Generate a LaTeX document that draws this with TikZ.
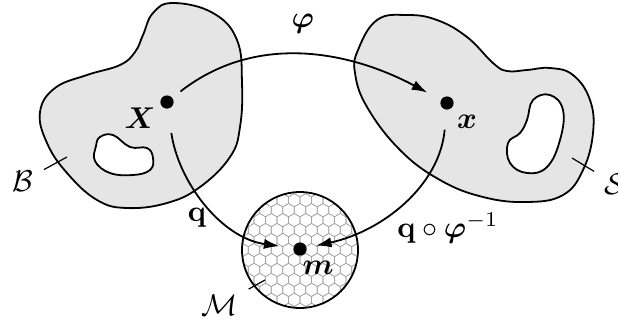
\documentclass[tikz,border=0pt]{standalone}
\usepackage{amsmath, amssymb}
\usepackage{tikz}
\usetikzlibrary{arrows.meta,positioning,calc}

\begin{document}
\begin{tikzpicture}[
    x=0.333pt, y=-0.333pt,
    region/.style={draw, line width=0.6pt, fill=black!10, even odd rule},
    dot/.style={circle, fill=black, inner sep=0pt, minimum size=4.4pt},
    map/.style={line width=0.6pt, -{Latex[length=5.2pt,width=3.4pt]}},
    leader/.style={line width=0.4pt},
    hexline/.style={line width=0.2pt, black!35}
]
\useasboundingbox (0,0) rectangle (618,325);

% reference body B with its hole
\path[region] plot[smooth cycle, tension=0.7] coordinates {
    (173,3) (213,13) (237,40) (242,83) (240,127) (230,157) (200,187)
    (167,203) (127,208) (97,200) (67,173) (47,143) (40,112) (55,88)
    (87,75) (120,65) (135,52) (143,35) (153,13)}
  plot[smooth cycle, tension=0.7] coordinates {
    (100,137) (113,135) (130,147) (147,148) (153,158) (150,170)
    (133,175) (110,173) (95,161) (96,146)};

% current configuration S with its hole
\path[region] plot[smooth cycle, tension=0.7] coordinates {
    (377,20) (358,50) (355,73) (367,107) (400,150) (440,180) (483,197)
    (527,202) (563,195) (583,170) (593,133) (590,100) (573,75) (550,68)
    (527,70) (507,71) (493,63) (467,37) (437,20) (407,15)}
  plot[smooth cycle, tension=0.7] coordinates {
    (533,100) (550,95) (563,110) (560,140) (547,167) (527,173)
    (510,163) (508,143) (520,133) (527,120)};

% material manifold M, hexagonal lattice
\begin{scope}
  \clip (300,250) circle[radius=58];
  \foreach \row in {-7,...,7} {
    \foreach \col in {-7,...,7} {
      \pgfmathsetmacro\hx{300 + 11.5*\col + 5.75*abs(mod(\row,2))}
      \pgfmathsetmacro\hy{250 + 9.96*\row}
      \draw[hexline] (\hx,\hy) +(30:6.64) -- +(90:6.64) -- +(150:6.64)
        -- +(210:6.64) -- +(270:6.64) -- +(330:6.64) -- cycle;
    }
  }
\end{scope}
\draw[line width=0.6pt] (300,250) circle[radius=58];

% points
\node (X) at (167,102) [dot] {};
\node (x) at (447,103) [dot] {};
\node (m) at (300,249) [dot] {};

\node at (140,118) {$\boldsymbol{X}$};
\node at (467,122) {$\boldsymbol{x}$};
\node at (318,268) {$\boldsymbol{m}$};

% maps
\draw[map, shorten <=3.3pt, shorten >=5pt] (X) to[out=38, in=152] node[pos=0.5, above=4pt] (phi) {$\boldsymbol{\varphi}$} (x);
\draw[map, shorten <=8pt, shorten >=4.5pt] (X) to[out=-82, in=172] (m);
\draw[map, shorten <=6.5pt, shorten >=3pt] (x) to[out=-95, in=12] (m);

\node (q) at (197,218) {$\mathbf{q}$};
\node (qphi) at (448,228) {$\mathbf{q}\circ\boldsymbol{\varphi}^{-1}$};

% region labels
\node (Blab) at (23,181) {$\mathcal{B}$};
\node (Slab) at (615,184) {$\mathcal{S}$};
\node (Mlab) at (220,305) {$\mathcal{M}$};
\coordinate (Bpt) at (67,157);
\coordinate (Spt) at (572,158);
\coordinate (Mpt) at (265,280);
\draw[leader] (Blab) -- (Bpt);
\draw[leader] (Slab) -- (Spt);
\draw[leader] (Mlab) -- (Mpt);

\end{tikzpicture}
\end{document}
